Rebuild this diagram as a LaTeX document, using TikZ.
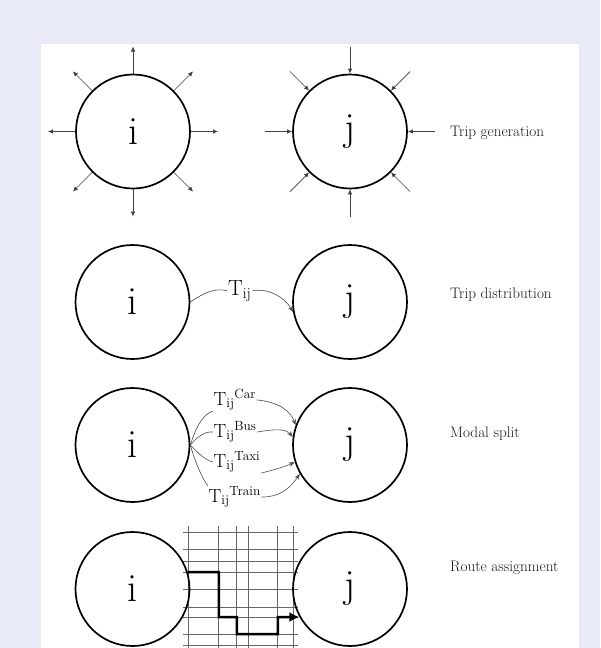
\documentclass[tikz,border=0pt]{standalone}
\usepackage{fontspec}
\usetikzlibrary{arrows.meta,calc}
\definecolor{pagebg}{RGB}{232,235,247}
\begin{document}
\begin{tikzpicture}[x=1pt,y=-1pt,
  zone/.style={circle,draw=black,line width=1.7pt,minimum size=114pt,inner sep=0pt,font=\fontsize{40}{40}\selectfont},
  ray/.style={line width=0.7pt,draw=black!75,-{Latex[length=5pt,width=4.5pt]}},
  conn/.style={line width=0.6pt,draw=black!70},
  carrow/.style={conn,-{Stealth[length=6pt,width=4.5pt]}},
  stage/.style={anchor=base west,inner sep=0pt,font=\fontsize{15.2}{18}\selectfont,text=black!90},
  modelbl/.style={anchor=base west,inner sep=0.5pt,font=\fontsize{19}{22}\selectfont},
  gridline/.style={line width=0.6pt,draw=black!60},
  route/.style={line width=2.4pt,draw=black,-{Latex[length=10pt,width=10pt]}}]
\fill[pagebg] (0,0) rectangle (600,648);
\fill[white] (41,44) rectangle (579,648);
\useasboundingbox (0,0) rectangle (600,648);
% Row 1
\node[zone] (i1) at (133,131.5) {i};
\node[zone] (j1) at (350,131.5) {j};
\foreach \a in {0,45,...,315}{
  \coordinate (ri\a) at ($(i1)+(\a:85)$);
  \coordinate (rj\a) at ($(j1)+(\a:85)$);
  \draw[ray] (i1) -- (ri\a);
  \draw[ray] (rj\a) -- (j1);
}
\node[stage] (s1) at (450,136.5) {Trip generation};
% Row 2
\node[zone] (i2) at (132.5,302) {i};
\node[zone] (j2) at (350,302) {j};
\node[anchor=base west,inner sep=1pt,font=\fontsize{22}{24}\selectfont] (t2) at (227,295) {T\textsubscript{ij}};
\draw[conn] (i2.east) .. controls (205,292) and (215,288) .. (t2.west);
\draw[carrow] (t2.east) .. controls (270,288) and (285,298) .. (j2.190);
\node[stage] (s2) at (450,298.8) {Trip distribution};
% Row 3
\node[zone] (i3) at (132.5,445) {i};
\node[zone] (j3) at (350,445) {j};
\node[modelbl] (tc) at (213,405) {T\textsubscript{ij}\textsuperscript{Car}};
\node[modelbl] (tb) at (213,437) {T\textsubscript{ij}\textsuperscript{Bus}};
\node[modelbl] (tt) at (213,467) {T\textsubscript{ij}\textsuperscript{Taxi}};
\node[modelbl] (tr) at (208,502) {T\textsubscript{ij}\textsuperscript{Train}};
\draw[conn] (i3.east) .. controls (195,430) and (202,414) .. (tc.south west);
\draw[conn] (i3.east) .. controls (197,437) and (205,431) .. (tb.west);
\draw[conn] (i3.east) .. controls (197,452) and (205,460) .. (tt.west);
\draw[conn] (i3.east) .. controls (195,462) and (203,480) .. (tr.north west);
\draw[carrow] (tc.east) .. controls (280,402) and (291,412) .. (j3.160);
\draw[carrow] (tb.east) .. controls (280,428) and (287,430) .. (j3.172);
\draw[carrow] (tt.south east) .. controls (281,468) and (289,465) .. (j3.197);
\draw[carrow] (tr.east) .. controls (283,497) and (292,485) .. (j3.210);
\node[stage] (s3) at (450,437.5) {Modal split};
% Row 4
\foreach \x in {188,218,236,248,277,293} \draw[gridline] (\x,526) -- (\x,648);
\foreach \y in {532,549,561,572,589,607,617,634,645} \draw[gridline] (183,\y) -- (298,\y);
\node[zone] (i4) at (132.5,589) {i};
\node[zone] (j4) at (350,589) {j};
\draw[route] (i4.17) -- ++(31,0) -- ++(0,45) -- ++(18,0) -- ++(0,17) -- ++(41,0) -- ++(0,-17) -- (j4.209);
\node[stage] (s4) at (450,571) {Route assignment};
\end{tikzpicture}
\end{document}
